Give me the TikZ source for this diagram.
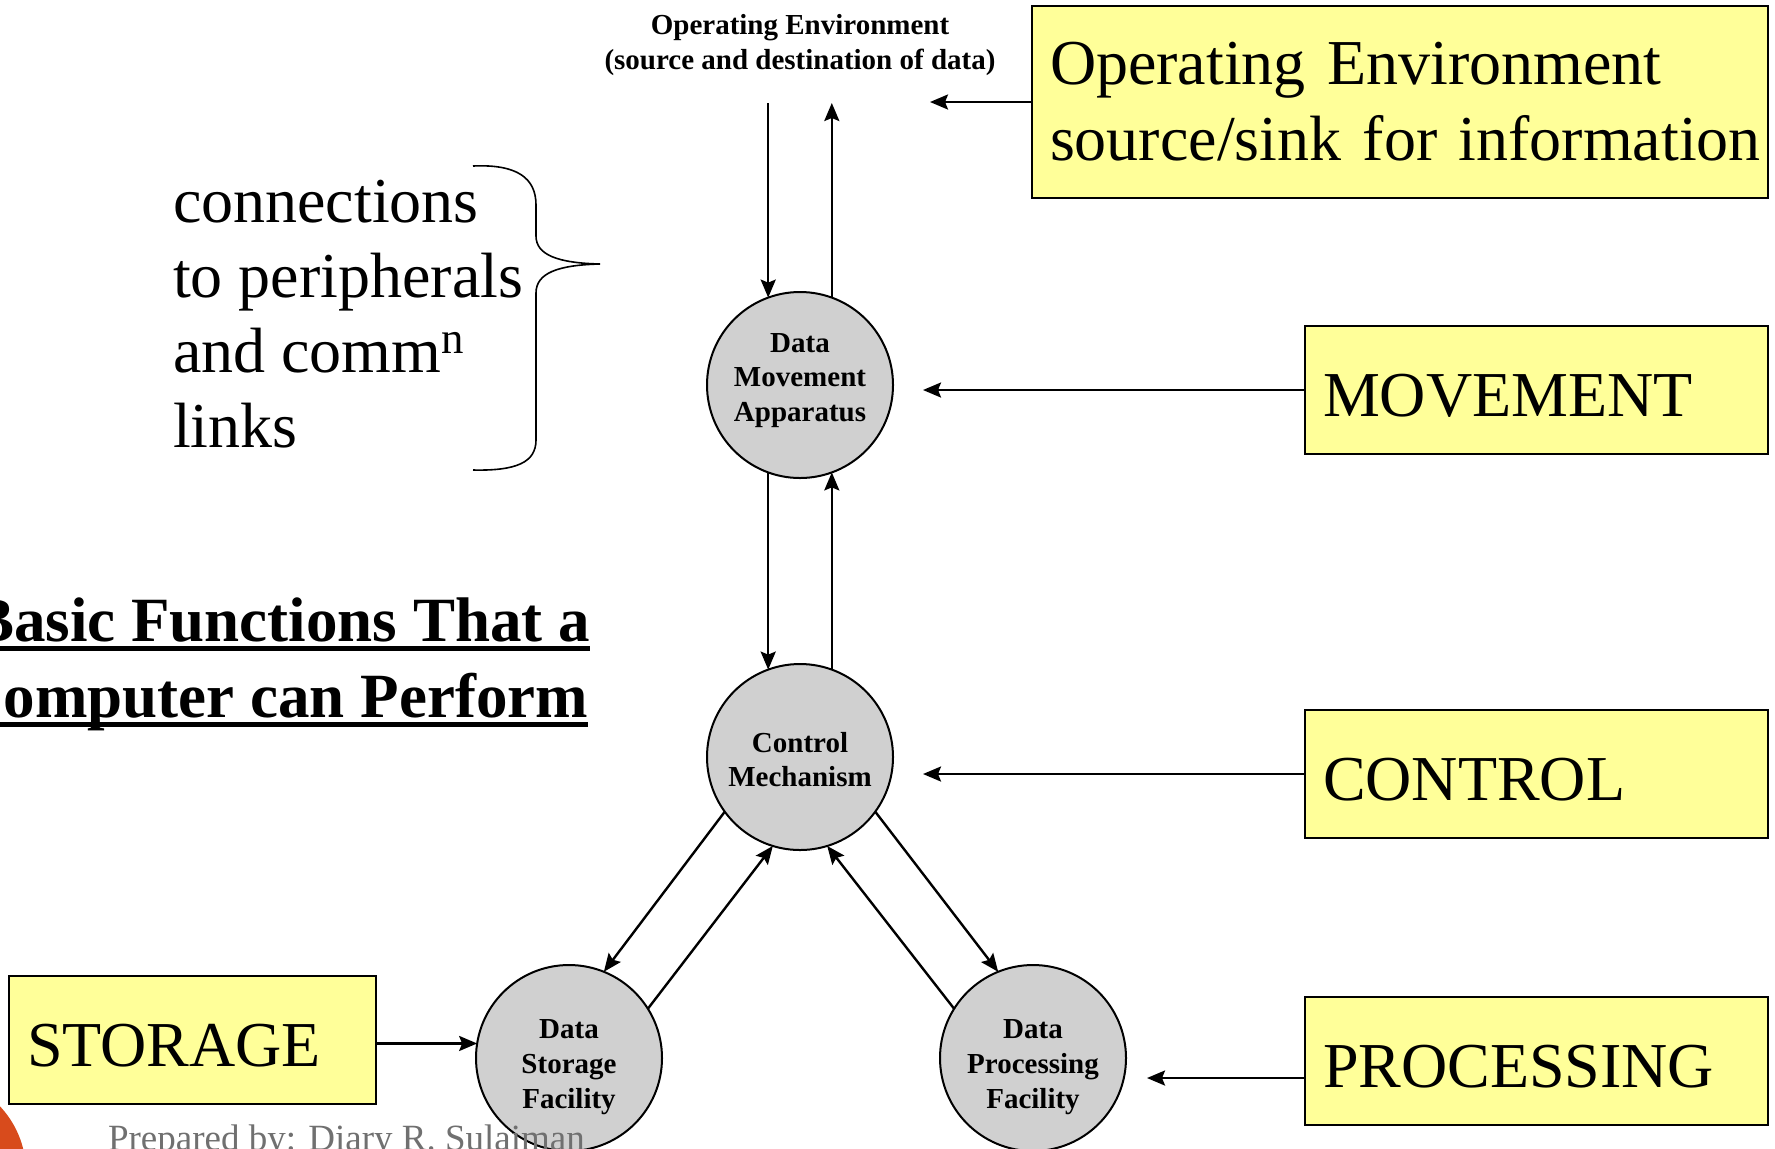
\documentclass[tikz,border=0pt]{standalone}
\usepackage{fontspec}
\setmainfont{Liberation Serif}
\usetikzlibrary{arrows.meta}
\definecolor{notey}{RGB}{255,255,153}
\definecolor{discgray}{RGB}{208,208,208}
\definecolor{footgray}{RGB}{112,112,112}
\definecolor{accent}{RGB}{216,75,28}
% stacked disc caption, baseline on its first line
\newcommand{\disccaption}[1]{\begin{tabular}[t]{@{}c@{}}#1\end{tabular}}
\begin{document}
\begin{tikzpicture}[x=0.5pt,y=-0.5pt,
  every node/.style={inner sep=0pt, outer sep=0pt},
  func/.style={circle, draw, line width=1pt, fill=discgray, minimum size=93pt,
    font=\fontsize{14.5}{17.4}\selectfont\bfseries, text height=0pt},
  tag/.style={rectangle, draw, line width=1.2pt, fill=notey, inner xsep=9pt,
    align=left, font=\fontsize{32}{38}\selectfont},
  oneline/.style={text height=26pt, text depth=0pt, minimum height=64pt},
  big/.style={font=\fontsize{32}{38}\selectfont, anchor=base west},
  heading/.style={font=\fontsize{31.5}{38}\selectfont\bfseries, anchor=base east},
  flow/.style={line width=1.2pt, -{Stealth[length=9pt,width=7.5pt,inset=1.5pt]}},
]
\useasboundingbox (0,0) rectangle (1775,1148);
\fill[white] (0,0) rectangle (1775,1148);

% slide decoration
\fill[accent] (-70,1172) circle (48pt);

% heading
\node[heading] (title1) at (590,641) {Basic Functions That a};
\node[heading] (title2) at (588,717) {Computer can Perform};
\draw[line width=2.3pt] ([yshift=-3.7pt]title1.base west) -- ([yshift=-3.7pt]title1.base east);
\draw[line width=2.3pt] ([yshift=-3.7pt]title2.base west) -- ([yshift=-3.7pt]title2.base east);

% peripherals note with brace
\node[big] (conn1) at (173,222) {connections};
\node[big] (conn2) at (173,297) {to peripherals};
\node[big] (conn3) at (173,372) {and comm\textsuperscript{n}};
\node[big] (conn4) at (173,447) {links};
\draw[line width=0.8pt] (473,166) .. controls (517,164) and (536,178) .. (536,205)
  -- (536,236) .. controls (536,255) and (558,263) .. (600,264)
  .. controls (558,265) and (536,273) .. (536,293)
  -- (536,440) .. controls (536,462) and (517,471) .. (473,470);

% environment label
\node[align=center, font=\fontsize{14.5}{17.5}\selectfont\bfseries] (envlabel) at (800,45)
  {Operating Environment\\(source and destination of data)};

% function discs
\node[func, text depth=33pt] (mov) at (800,385) {\disccaption{Data\\Movement\\Apparatus}};
\node[func, text depth=5pt] (con) at (800,757) {\disccaption{Control\\Mechanism}};
\node[func, text depth=19.5pt] (sto) at (569,1058) {\disccaption{Data\\Storage\\Facility}};
\node[func, text depth=19.5pt] (proc) at (1033,1058) {\disccaption{Data\\Processing\\Facility}};

% footer, printed over the storage disc
\node[anchor=base west, font=\fontsize{18.5}{22}\selectfont, text=footgray] (footer)
  at (108,1150) {Prepared by: Diary R. Sulaiman};

% category boxes
\node[tag, minimum width=368pt, minimum height=96pt, text width=350pt] (envbox) at (1400,102)
  {Operating Environment\\\mbox{source/sink for information}};
\node[tag, oneline, minimum width=231.5pt, text width=213.5pt] (movbox) at (1536.5,390) {MOVEMENT};
\node[tag, oneline, minimum width=231.5pt, text width=213.5pt] (conbox) at (1536.5,774) {CONTROL};
\node[tag, oneline, minimum width=231.5pt, text width=213.5pt] (procbox) at (1536.5,1061) {PROCESSING};
\node[tag, oneline, minimum width=183.5pt, text width=165.5pt] (stobox) at (192.5,1040) {STORAGE};

% data paths
\coordinate (envtop) at (800,103);
\draw[flow] (mov.110 |- envtop) -- (mov.110);
\draw[flow] (mov.70) -- (mov.70 |- envtop);
\draw[flow] (mov.250) -- (con.110);
\draw[flow] (con.70) -- (mov.290);
\draw[flow] (con.216) -- (sto.68);
\draw[flow] (sto.32) -- (con.253);
\draw[flow] (con.324) -- (proc.112);
\draw[flow] (proc.148) -- (con.287);

% pointers from the boxes
\coordinate (envtip) at (930,102);
\coordinate (movtip) at (923,390);
\coordinate (contip) at (923,774);
\coordinate (proctip) at (1147,1078);
\draw[flow] (envbox.west) -- (envtip);
\draw[flow] (movbox.west) -- (movtip);
\draw[flow] (conbox.west) -- (contip);
\draw[flow] (procbox.west |- proctip) -- (proctip);
\draw[flow] (stobox.east |- sto.171) -- (sto.171);
\end{tikzpicture}
\end{document}
